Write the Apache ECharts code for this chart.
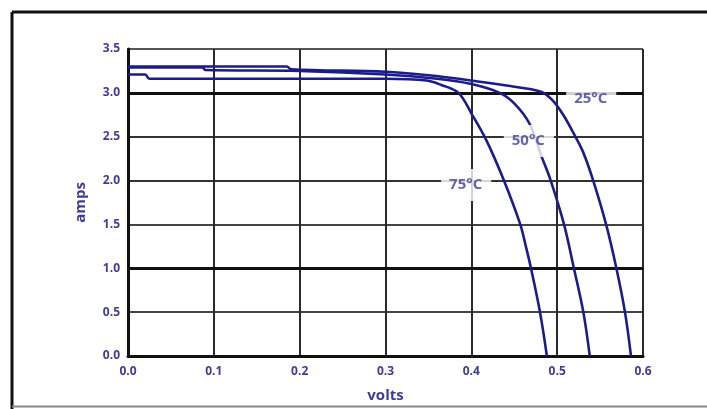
<!DOCTYPE html>
<html><head><meta charset="utf-8">
<script src="https://cdn.jsdelivr.net/npm/echarts@6/dist/echarts.min.js"></script>
<style>html,body{margin:0;padding:0;background:#fff}#c{width:707px;height:409px}</style>
</head><body><div id="c"></div>
<script>
// Data
var xTicks = [0.0, 0.1, 0.2, 0.3, 0.4, 0.5, 0.6];
var yTicks = [0.0, 0.5, 1.0, 1.5, 2.0, 2.5, 3.0, 3.5];

var v25 = [0, 0.185, 0.19, 0.30, 0.35, 0.40, 0.45, 0.47, 0.484, 0.496, 0.507, 0.518, 0.530, 0.542, 0.557, 0.569, 0.579, 0.586];
var i25 = [3.30, 3.30, 3.27, 3.24, 3.20, 3.14, 3.07, 3.04, 3.00, 2.90, 2.75, 2.56, 2.33, 2.00, 1.50, 1.00, 0.50, 0.00];

var v50 = [0, 0.087, 0.09, 0.20, 0.30, 0.36, 0.40, 0.433, 0.45, 0.468, 0.482, 0.4925, 0.508, 0.5195, 0.5305, 0.538];
var i50 = [3.29, 3.29, 3.26, 3.25, 3.21, 3.16, 3.10, 3.00, 2.88, 2.645, 2.27, 2.00, 1.50, 1.00, 0.50, 0.00];

var v75 = [0, 0.02, 0.025, 0.20, 0.30, 0.348, 0.365, 0.385, 0.401, 0.418, 0.438, 0.457, 0.4635, 0.4695, 0.480, 0.488];
var i75 = [3.21, 3.21, 3.16, 3.16, 3.16, 3.14, 3.09, 3.00, 2.75, 2.45, 2.00, 1.50, 1.25, 1.00, 0.50, 0.00];

var labelText = ['25°C', '50°C', '75°C'];
var labelV = [0.5397, 0.467, 0.394];
var labelI = [2.93, 2.45, 1.95];

function pairs(xs, ys) { return xs.map(function (x, k) { return [x, ys[k]]; }); }

var curveColor = '#1b1b8c';
var textColor = '#3d3d96';

var chart = echarts.init(document.getElementById('c'), null, {renderer: 'canvas'});

function curve(name, xs, ys) {
  return {
    name: name, type: 'line', data: pairs(xs, ys), showSymbol: false,
    smooth: 0.35,
    lineStyle: {color: curveColor, width: 2.6}, z: 5, animation: false
  };
}

chart.setOption({
  animation: false,
  backgroundColor: '#fff',
  grid: {left: 128, right: 64, top: 49, bottom: 53},
  xAxis: {
    type: 'value', min: 0, max: 0.6, interval: 0.1,
    name: 'volts', nameLocation: 'middle', nameGap: 32,
    nameTextStyle: {color: textColor, fontSize: 15, fontWeight: 'bold', fontFamily: 'Open Sans'},
    axisLine: {show: true, lineStyle: {color: '#111', width: 3}},
    axisTick: {show: false},
    axisLabel: {color: textColor, fontSize: 12, fontWeight: 'bold', fontFamily: 'Open Sans', margin: 10,
      formatter: function (v) { return v.toFixed(1); }},
    splitLine: {show: true, lineStyle: {color: '#2a2a2a', width: 2}}
  },
  yAxis: {
    type: 'value', min: 0, max: 3.5, interval: 0.5,
    name: 'amps', nameLocation: 'middle', nameGap: 40, nameRotate: 90,
    nameTextStyle: {color: textColor, fontSize: 15, fontWeight: 'bold', fontFamily: 'Open Sans'},
    axisLine: {show: true, lineStyle: {color: '#111', width: 3}},
    axisTick: {show: false},
    axisLabel: {color: textColor, fontSize: 12, fontWeight: 'bold', fontFamily: 'Open Sans', margin: 8,
      formatter: function (v) { return v.toFixed(1); }},
    splitLine: {show: true, lineStyle: {color: ['#222', '#444', '#111', '#444', '#333', '#333', '#222', '#555'], width: 2}}
  },
  series: [
    curve('25°C', v25, i25),
    curve('50°C', v50, i50),
    curve('75°C', v75, i75),
    {
      type: 'line', data: [], markLine: {
        silent: true, symbol: 'none', label: {show: false},
        lineStyle: {color: '#111', width: 3, type: 'solid'},
        data: [{yAxis: 1.0}, {yAxis: 3.0}]
      }, z: 2
    },
    {
      type: 'scatter', z: 10, symbolSize: 0,
      data: labelText.map(function (t, k) { return {value: [labelV[k], labelI[k]], name: t}; }),
      label: {
        show: true, position: 'inside', formatter: '{b}',
        color: textColor, fontSize: 15, fontWeight: 'bold', fontFamily: 'Open Sans',
        backgroundColor: '#fff', padding: [9, 9, 8, 8]
      }
    }
  ],
  graphic: [
    {type: 'line', shape: {x1: 12, y1: 12, x2: 707, y2: 12}, style: {stroke: '#111', lineWidth: 3}},
    {type: 'line', shape: {x1: 12, y1: 12, x2: 12, y2: 409}, style: {stroke: '#111', lineWidth: 3}},
    {type: 'line', shape: {x1: 12, y1: 406.5, x2: 707, y2: 406.5}, style: {stroke: '#888', lineWidth: 2}}
  ]
});
</script>
</body></html>
